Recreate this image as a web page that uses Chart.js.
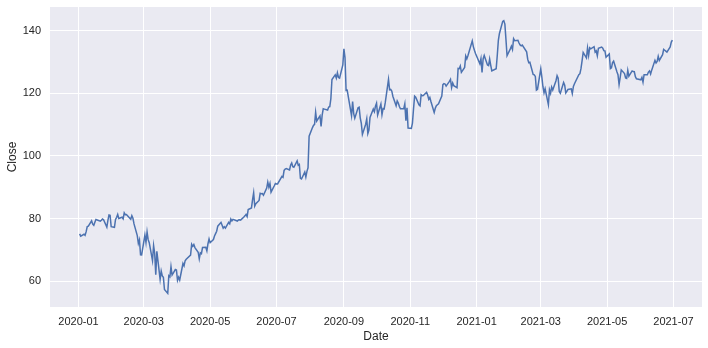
<!DOCTYPE html>
<html>
<head>
<title>Close</title>
<script src="https://cdn.jsdelivr.net/npm/chart.js"></script>
<style>
  body { margin: 0; background: #fff; }
</style>
</head>
<body>
<canvas id="chart" width="708" height="348"></canvas>
<script>
// trading days and daily close
const dates = [
  '2020-01-02','2020-01-03','2020-01-06','2020-01-07','2020-01-08','2020-01-09','2020-01-10','2020-01-13','2020-01-14','2020-01-15','2020-01-16','2020-01-17','2020-01-21','2020-01-22','2020-01-23','2020-01-24','2020-01-27','2020-01-28','2020-01-29','2020-01-30','2020-01-31',
  '2020-02-03','2020-02-04','2020-02-05','2020-02-06','2020-02-07','2020-02-10','2020-02-11','2020-02-12','2020-02-13','2020-02-14','2020-02-18','2020-02-19','2020-02-20','2020-02-21','2020-02-24','2020-02-25','2020-02-26','2020-02-27','2020-02-28',
  '2020-03-02','2020-03-03','2020-03-04','2020-03-05','2020-03-06','2020-03-09','2020-03-10','2020-03-11','2020-03-12','2020-03-13','2020-03-16','2020-03-17','2020-03-18','2020-03-19','2020-03-20','2020-03-23','2020-03-24','2020-03-25','2020-03-26','2020-03-27','2020-03-30','2020-03-31',
  '2020-04-01','2020-04-02','2020-04-03','2020-04-06','2020-04-07','2020-04-08','2020-04-09','2020-04-13','2020-04-14','2020-04-15','2020-04-16','2020-04-17','2020-04-20','2020-04-21','2020-04-22','2020-04-23','2020-04-24','2020-04-27','2020-04-28','2020-04-29','2020-04-30',
  '2020-05-01','2020-05-04','2020-05-05','2020-05-06','2020-05-07','2020-05-08','2020-05-11','2020-05-12','2020-05-13','2020-05-14','2020-05-15','2020-05-18','2020-05-19','2020-05-20','2020-05-21','2020-05-22','2020-05-26','2020-05-27','2020-05-28','2020-05-29',
  '2020-06-01','2020-06-02','2020-06-03','2020-06-04','2020-06-05','2020-06-08','2020-06-09','2020-06-10','2020-06-11','2020-06-12','2020-06-15','2020-06-16','2020-06-17','2020-06-18','2020-06-19','2020-06-22','2020-06-23','2020-06-24','2020-06-25','2020-06-26','2020-06-29','2020-06-30',
  '2020-07-01','2020-07-02','2020-07-06','2020-07-07','2020-07-08','2020-07-09','2020-07-10','2020-07-13','2020-07-14','2020-07-15','2020-07-16','2020-07-17','2020-07-20','2020-07-21','2020-07-22','2020-07-23','2020-07-24','2020-07-27','2020-07-28','2020-07-29','2020-07-30','2020-07-31',
  '2020-08-03','2020-08-04','2020-08-05','2020-08-06','2020-08-07','2020-08-10','2020-08-11','2020-08-12','2020-08-13','2020-08-14','2020-08-17','2020-08-18','2020-08-19','2020-08-20','2020-08-21','2020-08-24','2020-08-25','2020-08-26','2020-08-27','2020-08-28','2020-08-31',
  '2020-09-01','2020-09-02','2020-09-03','2020-09-04','2020-09-08','2020-09-09','2020-09-10','2020-09-11','2020-09-14','2020-09-15','2020-09-16','2020-09-17','2020-09-18','2020-09-21','2020-09-22','2020-09-23','2020-09-24','2020-09-25','2020-09-28','2020-09-29','2020-09-30',
  '2020-10-01','2020-10-02','2020-10-05','2020-10-06','2020-10-07','2020-10-08','2020-10-09','2020-10-12','2020-10-13','2020-10-14','2020-10-15','2020-10-16','2020-10-19','2020-10-20','2020-10-21','2020-10-22','2020-10-23','2020-10-26','2020-10-27','2020-10-28','2020-10-29','2020-10-30',
  '2020-11-02','2020-11-03','2020-11-04','2020-11-05','2020-11-06','2020-11-09','2020-11-10','2020-11-11','2020-11-12','2020-11-13','2020-11-16','2020-11-17','2020-11-18','2020-11-19','2020-11-20','2020-11-23','2020-11-24','2020-11-25','2020-11-27','2020-11-30',
  '2020-12-01','2020-12-02','2020-12-03','2020-12-04','2020-12-07','2020-12-08','2020-12-09','2020-12-10','2020-12-11','2020-12-14','2020-12-15','2020-12-16','2020-12-17','2020-12-18','2020-12-21','2020-12-22','2020-12-23','2020-12-24','2020-12-28','2020-12-29','2020-12-30','2020-12-31',
  '2021-01-04','2021-01-05','2021-01-06','2021-01-07','2021-01-08','2021-01-11','2021-01-12','2021-01-13','2021-01-14','2021-01-15','2021-01-19','2021-01-20','2021-01-21','2021-01-22','2021-01-25','2021-01-26','2021-01-27','2021-01-28','2021-01-29',
  '2021-02-01','2021-02-02','2021-02-03','2021-02-04','2021-02-05','2021-02-08','2021-02-09','2021-02-10','2021-02-11','2021-02-12','2021-02-16','2021-02-17','2021-02-18','2021-02-19','2021-02-22','2021-02-23','2021-02-24','2021-02-25','2021-02-26',
  '2021-03-01','2021-03-02','2021-03-03','2021-03-04','2021-03-05','2021-03-08','2021-03-09','2021-03-10','2021-03-11','2021-03-12','2021-03-15','2021-03-16','2021-03-17','2021-03-18','2021-03-19','2021-03-22','2021-03-23','2021-03-24','2021-03-25','2021-03-26','2021-03-29','2021-03-30','2021-03-31',
  '2021-04-01','2021-04-05','2021-04-06','2021-04-07','2021-04-08','2021-04-09','2021-04-12','2021-04-13','2021-04-14','2021-04-15','2021-04-16','2021-04-19','2021-04-20','2021-04-21','2021-04-22','2021-04-23','2021-04-26','2021-04-27','2021-04-28','2021-04-29','2021-04-30',
  '2021-05-03','2021-05-04','2021-05-05','2021-05-06','2021-05-07','2021-05-10','2021-05-11','2021-05-12','2021-05-13','2021-05-14','2021-05-17','2021-05-18','2021-05-19','2021-05-20','2021-05-21','2021-05-24','2021-05-25','2021-05-26','2021-05-27','2021-05-28',
  '2021-06-01','2021-06-02','2021-06-03','2021-06-04','2021-06-07','2021-06-08','2021-06-09','2021-06-10','2021-06-11','2021-06-14','2021-06-15','2021-06-16','2021-06-17','2021-06-18','2021-06-21','2021-06-22','2021-06-23','2021-06-24','2021-06-25','2021-06-28','2021-06-29','2021-06-30'
];

const close = [
  75.09,74.36,74.95,74.60,75.80,77.41,77.58,79.24,78.17,77.83,78.81,79.68,79.14,79.43,79.81,79.58,77.24,79.42,81.08,80.97,77.38,
  77.17,79.71,80.36,81.30,80.01,80.39,79.90,81.80,81.22,81.24,79.75,80.90,80.07,78.26,74.54,72.02,73.16,68.38,68.34,
  74.70,72.33,75.68,73.23,72.26,66.54,71.33,68.86,62.06,69.49,60.55,63.22,61.67,61.19,57.31,56.09,61.72,61.38,64.61,61.94,63.70,63.57,
  60.23,61.23,60.35,65.62,64.86,66.52,67.00,68.31,71.76,71.11,71.67,70.70,69.23,67.09,69.03,68.76,70.74,70.79,69.64,71.93,73.45,
  72.27,73.29,74.39,75.16,75.93,77.53,78.75,77.85,76.91,77.39,76.93,78.74,78.29,79.81,79.21,79.72,79.18,79.53,79.56,79.49,
  80.46,80.83,81.28,80.58,82.88,83.36,85.99,88.21,83.97,84.70,85.75,88.02,87.90,87.93,87.43,89.72,91.63,90.01,91.21,88.41,90.45,91.20,
  91.03,91.03,93.46,93.17,95.34,95.75,95.92,95.48,97.06,97.72,96.52,96.33,98.36,97.00,97.27,92.85,92.61,94.81,93.25,95.04,96.19,106.26,
  108.94,109.67,110.06,113.90,111.11,112.73,109.38,113.01,115.01,114.91,114.61,115.56,115.71,118.28,124.37,125.86,124.83,126.52,125.01,124.81,129.04,
  134.18,131.40,120.88,120.96,112.82,117.32,113.49,112.00,115.36,115.54,112.13,110.34,106.84,110.08,111.81,107.12,108.22,112.28,114.96,114.09,115.81,
  116.79,113.02,116.50,113.16,115.08,114.97,116.97,124.40,121.10,121.19,120.71,119.02,115.98,117.51,116.87,115.75,115.04,115.05,116.60,111.20,115.32,108.86,
  108.77,110.44,114.95,119.03,118.69,116.32,115.97,119.49,119.21,119.26,120.30,119.39,118.03,118.64,117.34,113.85,115.17,116.03,116.59,119.05,
  122.72,123.08,122.94,122.25,123.75,124.38,121.78,123.24,122.41,121.78,127.88,127.81,128.70,126.66,128.23,131.88,130.96,131.97,136.69,134.87,133.72,132.69,
  129.41,131.01,126.60,130.92,132.05,128.98,128.80,130.89,128.91,127.14,127.83,132.03,136.87,139.07,142.92,143.16,142.06,137.09,131.96,
  134.14,134.99,133.94,137.39,136.76,136.91,136.01,135.39,135.13,135.37,133.19,130.84,129.71,129.87,126.00,125.86,125.35,120.99,121.26,
  127.79,125.12,122.06,120.13,121.42,116.36,121.09,119.98,121.96,121.03,123.99,125.57,124.76,120.53,119.99,123.39,122.54,120.09,120.59,121.21,121.39,119.90,122.15,
  123.00,125.90,126.21,127.90,130.36,133.00,131.24,134.43,132.03,134.50,134.16,134.84,133.11,133.50,131.94,134.32,134.72,134.39,133.58,133.48,131.46,
  132.54,127.85,128.10,129.74,130.21,126.85,125.91,122.77,124.97,127.45,126.27,124.85,124.69,127.31,125.43,127.10,126.90,126.85,125.28,124.61,
  124.28,125.06,123.54,125.89,125.90,126.74,127.13,126.11,127.35,130.48,129.64,130.15,131.79,130.46,132.30,133.98,133.70,133.41,133.11,134.78,136.33,136.96
];

const xTickLabels = ['2020-01','2020-03','2020-05','2020-07','2020-09','2020-11','2021-01','2021-03','2021-05','2021-07'];
const yTicks = [60, 80, 100, 120, 140];

// days since 2020-01-01
const origin = Date.UTC(2020, 0, 1);
function dayNum(s) {
  const p = s.split('-').map(Number);
  return (Date.UTC(p[0], p[1] - 1, p[2] || 1) - origin) / 86400000;
}
function dayLabel(v) {
  const d = new Date(origin + v * 86400000);
  return d.getUTCFullYear() + '-' + String(d.getUTCMonth() + 1).padStart(2, '0');
}

const points = dates.map((d, i) => ({x: dayNum(d), y: close[i]}));

// matplotlib style 5% margins
const xs = points.map(p => p.x);
const xLo = Math.min(...xs), xHi = Math.max(...xs);
const yLo = Math.min(...close), yHi = Math.max(...close);
const xPad = (xHi - xLo) * 0.05, yPad = (yHi - yLo) * 0.05;

const textColor = '#262626';
const font = {family: '"Liberation Sans", Arial, sans-serif', size: 11};

const plotBg = {
  id: 'plotBg',
  beforeDraw(chart) {
    const a = chart.chartArea;
    const ctx = chart.ctx;
    ctx.save();
    ctx.fillStyle = '#EAEAF2';
    ctx.fillRect(a.left, a.top, a.right - a.left, a.bottom - a.top);
    ctx.restore();
  }
};

new Chart(document.getElementById('chart'), {
  type: 'line',
  data: {
    datasets: [{
      label: 'Close',
      data: points,
      borderColor: '#4C72B0',
      borderWidth: 1.5,
      pointRadius: 0,
      tension: 0,
      fill: false
    }]
  },
  options: {
    responsive: false,
    animation: false,
    layout: {padding: {top: 7, right: 6, left: 0, bottom: 0}},
    plugins: {legend: {display: false}, tooltip: {enabled: false}},
    scales: {
      x: {
        type: 'linear',
        min: xLo - xPad,
        max: xHi + xPad,
        afterBuildTicks: s => { s.ticks = xTickLabels.map(t => ({value: dayNum(t)})); },
        afterFit: s => { s.height = 41; s.paddingLeft = 0; s.paddingRight = 0; },
        ticks: {
          color: textColor, font: font, padding: 8, maxRotation: 0, autoSkip: false,
          callback: v => dayLabel(v)
        },
        grid: {color: '#ffffff', lineWidth: 1, drawTicks: false},
        border: {display: false},
        title: {display: true, text: 'Date', color: textColor,
          font: {family: font.family, size: 12}, padding: {top: 0, bottom: 4}}
      },
      y: {
        min: yLo - yPad,
        max: yHi + yPad,
        afterBuildTicks: s => { s.ticks = yTicks.map(v => ({value: v})); },
        afterFit: s => { s.width = 50; s.paddingTop = 0; s.paddingBottom = 0; },
        ticks: {color: textColor, font: font, padding: 9},
        grid: {color: '#ffffff', lineWidth: 1, drawTicks: false},
        border: {display: false},
        title: {display: true, text: 'Close', color: textColor,
          font: {family: font.family, size: 12}, padding: {top: 5, bottom: 0}}
      }
    }
  },
  plugins: [plotBg]
});
</script>
</body>
</html>
